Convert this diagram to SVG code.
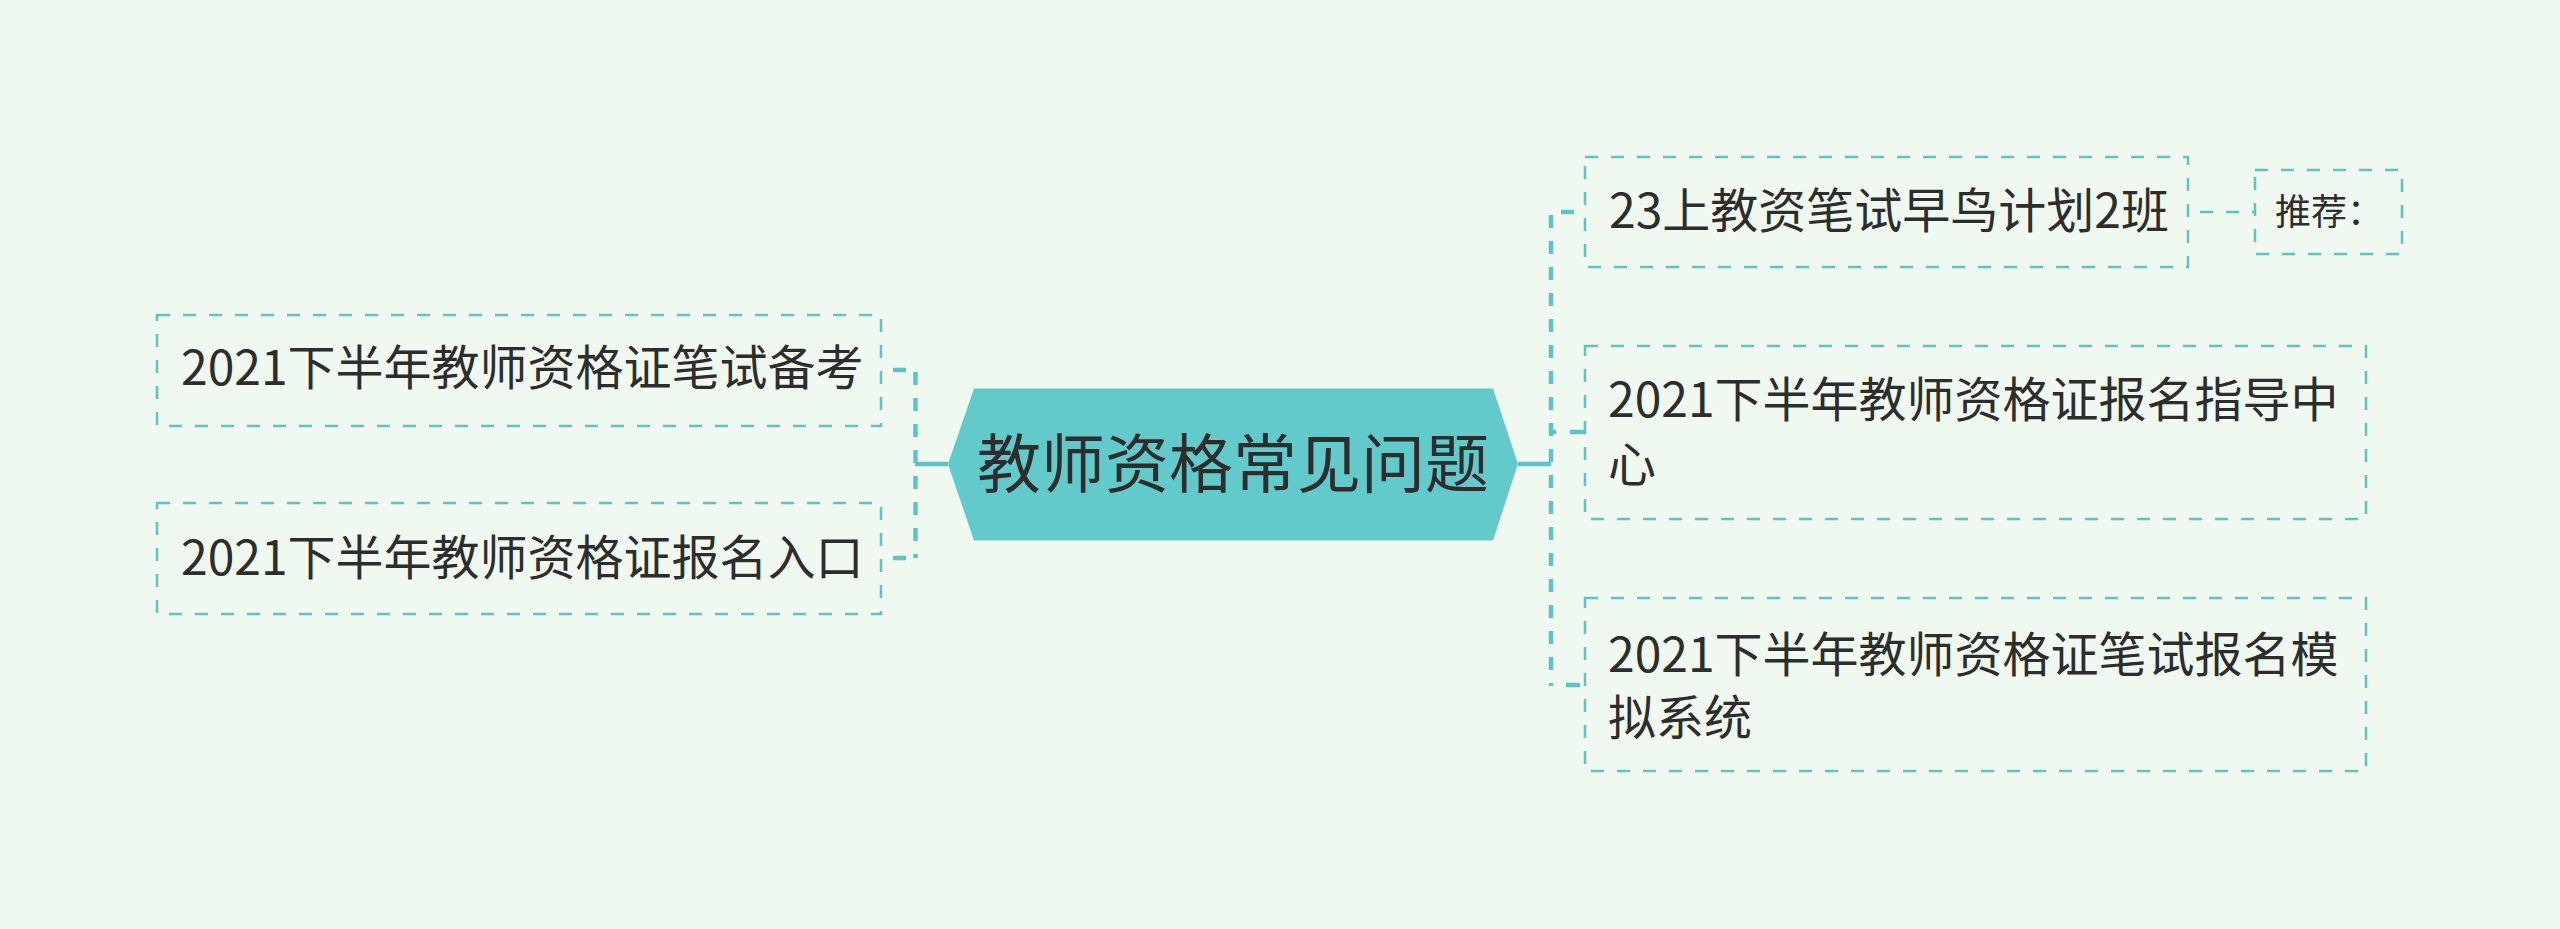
<svg xmlns="http://www.w3.org/2000/svg" width="2560" height="929" viewBox="0 0 2560 929">
<style>
.box{fill:none;stroke:#5cc4c7;stroke-width:2.5;stroke-dasharray:13 13}
.t{font-family:"Noto Sans CJK SC","Noto Sans",sans-serif;fill:#2d2d2d;font-size:48px}
.conn{fill:none;stroke:#5cc4c7;stroke-width:4.5;stroke-dasharray:13 13}
.solid{fill:none;stroke:#5cc4c7;stroke-width:4.5}
.thin{fill:none;stroke:#5cc4c7;stroke-width:2.5;stroke-dasharray:13 13}
</style>
<rect x="0" y="0" width="2560" height="929" fill="#f0f9ef"/>
<g id="connectors">
  <line class="solid" x1="915" y1="464" x2="948" y2="464"/>
  <line class="conn" x1="915.5" y1="372" x2="915.5" y2="558"/>
  <line class="solid" x1="893" y1="370" x2="906" y2="370"/>
  <line class="solid" x1="893" y1="558" x2="906" y2="558"/>
  <line class="solid" x1="1518" y1="464" x2="1551" y2="464"/>
  <line class="conn" x1="1551" y1="215" x2="1551" y2="686"/>
  <line class="solid" x1="1561" y1="212" x2="1574" y2="212"/>
  <line class="solid" x1="1551" y1="432" x2="1556" y2="432"/>
  <line class="solid" x1="1570" y1="432" x2="1585" y2="432"/>
  <line class="solid" x1="1566" y1="685" x2="1580" y2="685"/>
  <line class="thin" x1="2187" y1="212" x2="2255" y2="212" stroke-dashoffset="-13"/>
</g>
<g id="center">
  <polygon points="948,464 974,388.5 1493,388.5 1518,464 1493,540.5 974,540.5" fill="#63cacc"/>
  <text class="t" x="1233" y="487" text-anchor="middle" style="font-size:64px">教师资格常见问题</text>
</g>
<g id="L1">
  <rect class="box" x="157" y="315" width="724" height="111"/>
  <text class="t" x="181" y="385">2021下半年教师资格证笔试备考</text>
</g>
<g id="L2">
  <rect class="box" x="157" y="503" width="724" height="111"/>
  <text class="t" x="181" y="575">2021下半年教师资格证报名入口</text>
</g>
<g id="R1">
  <rect class="box" x="1585" y="157" width="603" height="110"/>
  <text class="t" x="1609" y="228">23上教资笔试早鸟计划2班</text>
</g>
<g id="R1a">
  <rect class="box" x="2255" y="170" width="147" height="84"/>
  <text class="t" x="2275" y="225" style="font-size:36px">推荐：</text>
</g>
<g id="R2">
  <rect class="box" x="1585" y="346" width="781" height="173"/>
  <text class="t" x="1608" y="417">2021下半年教师资格证报名指导中</text>
  <text class="t" x="1608" y="482">心</text>
</g>
<g id="R3">
  <rect class="box" x="1585" y="598" width="781" height="173"/>
  <text class="t" x="1608" y="672">2021下半年教师资格证笔试报名模</text>
  <text class="t" x="1608" y="735">拟系统</text>
</g>
</svg>
